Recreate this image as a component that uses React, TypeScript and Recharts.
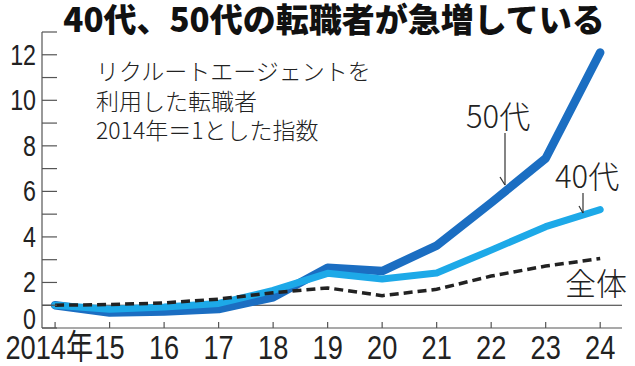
import React from 'react';
import { LineChart, Line, XAxis, YAxis, ReferenceLine } from 'recharts';

const years = [2014, 2015, 2016, 2017, 2018, 2019, 2020, 2021, 2022, 2023, 2024];
const s50 = [1.0, 0.68, 0.72, 0.83, 1.35, 2.65, 2.5, 3.62, 5.5, 7.45, 12.1];
const s40 = [1.0, 0.82, 0.92, 1.08, 1.65, 2.4, 2.15, 2.42, 3.42, 4.45, 5.2];
const sAll = [1.0, 1.03, 1.1, 1.27, 1.55, 1.76, 1.42, 1.7, 2.28, 2.72, 3.05];
const yTicks = [0, 1, 2, 3, 4, 5, 6, 7, 8, 9, 10, 11, 12, 13];
const yLabels = [0, 2, 4, 6, 8, 10, 12];
const xLabels = ['2014年', '15', '16', '17', '18', '19', '20', '21', '22', '23', '24'];

const data = years.map((y, i) => ({ year: y, a50: s50[i], a40: s40[i], all: sAll[i] }));

const DIGIT_FONT = '"Liberation Sans", Arial, sans-serif';
const JP_FONT = '"Noto Sans CJK JP", "Noto Sans", sans-serif';

const YTick = (props: any) => {
  const { x, y, payload } = props;
  const v = payload.value;
  const show = yLabels.includes(v);
  const ty = v === 0 ? y - 9 : y;
  return (
    <g>
      <line x1={x} y1={y} x2={x + 15} y2={y} stroke="#555" strokeWidth={1.2} />
      {show && (
        <text
          transform={`translate(${x - 6},${ty + 10}) scale(0.8,1)`}
          textAnchor="end"
          fontFamily={DIGIT_FONT}
          fontSize={29}
          fill="#222"
        >
          {v}
        </text>
      )}
    </g>
  );
};

const XTick = (props: any) => {
  const { x, y, payload, index } = props;
  const label = xLabels[index] ?? String(payload.value);
  const first = index === 0;
  return (
    <g>
      <line x1={x} y1={y} x2={x} y2={y - 6} stroke="#555" strokeWidth={1.2} />
      <text
        transform={`translate(${first ? x + 38 : x},${y + 31}) scale(0.8,1)`}
        textAnchor={first ? 'end' : 'middle'}
        fontFamily={first ? `${DIGIT_FONT}, ${JP_FONT}` : DIGIT_FONT}
        fontSize={34}
        fill="#222"
      >
        {label}
      </text>
    </g>
  );
};

export default function App() {
  return (
    <div style={{ position: 'absolute', left: 0, top: 0, width: 635, height: 366, background: '#fff' }}>
      <LineChart width={635} height={366} data={data} margin={{ top: 32, right: 13, bottom: 8, left: 0 }}>
        <XAxis
          dataKey="year"
          type="number"
          domain={[2013.76, 2024.4]}
          ticks={years}
          allowDataOverflow
          interval={0}
          tickSize={0}
          tickMargin={0}
          height={30}
          axisLine={{ stroke: '#555', strokeWidth: 1.2 }}
          tickLine={false}
          tick={<XTick />}
        />
        <YAxis
          type="number"
          domain={[0, 13]}
          ticks={yTicks}
          interval={0}
          width={42}
          tickSize={0}
          tickMargin={0}
          axisLine={{ stroke: '#555', strokeWidth: 1.2 }}
          tickLine={false}
          tick={<YTick />}
        />
        <ReferenceLine y={1} stroke="#333" strokeWidth={1.2} />
        <Line
          dataKey="a50"
          type="linear"
          stroke="#1b6ec2"
          strokeWidth={8.5}
          strokeLinecap="round"
          strokeLinejoin="round"
          dot={false}
          isAnimationActive={false}
        />
        <Line
          dataKey="a40"
          type="linear"
          stroke="#1da9e8"
          strokeWidth={7}
          strokeLinecap="round"
          strokeLinejoin="round"
          dot={false}
          isAnimationActive={false}
        />
        <Line
          dataKey="all"
          type="linear"
          stroke="#222"
          strokeWidth={3.5}
          strokeDasharray="9 5"
          dot={false}
          isAnimationActive={false}
        />
      </LineChart>
      <svg
        width={635}
        height={366}
        style={{ position: 'absolute', left: 0, top: 0, pointerEvents: 'none' }}
      >
        <text x={334} y={32} textAnchor="middle" fontFamily={JP_FONT} fontWeight={900} fontSize={33} fill="#111">
          40代、50代の転職者が急増している
        </text>
        <g fontFamily={JP_FONT} fontSize={23} fill="#222" fontWeight={300}>
          <text x={96} y={80}>リクルートエージェントを</text>
          <text x={96} y={110}>利用した転職者</text>
          <text x={96} y={139}>2014年＝1とした指数</text>
        </g>
        <g fontFamily={JP_FONT} fontSize={31} fill="#222" fontWeight={300}>
          <text x={466} y={128}>50代</text>
          <text x={555} y={188}>40代</text>
          <text x={565} y={295}>全体</text>
        </g>
        <g stroke="#333" strokeWidth={1.2} fill="none">
          <line x1={505} y1={133} x2={505} y2={185} />
          <line x1={500} y1={177} x2={505} y2={185} />
          <line x1={583} y1={193} x2={583} y2={213} />
          <line x1={579} y1={206} x2={583} y2={213} />
        </g>
      </svg>
    </div>
  );
}
